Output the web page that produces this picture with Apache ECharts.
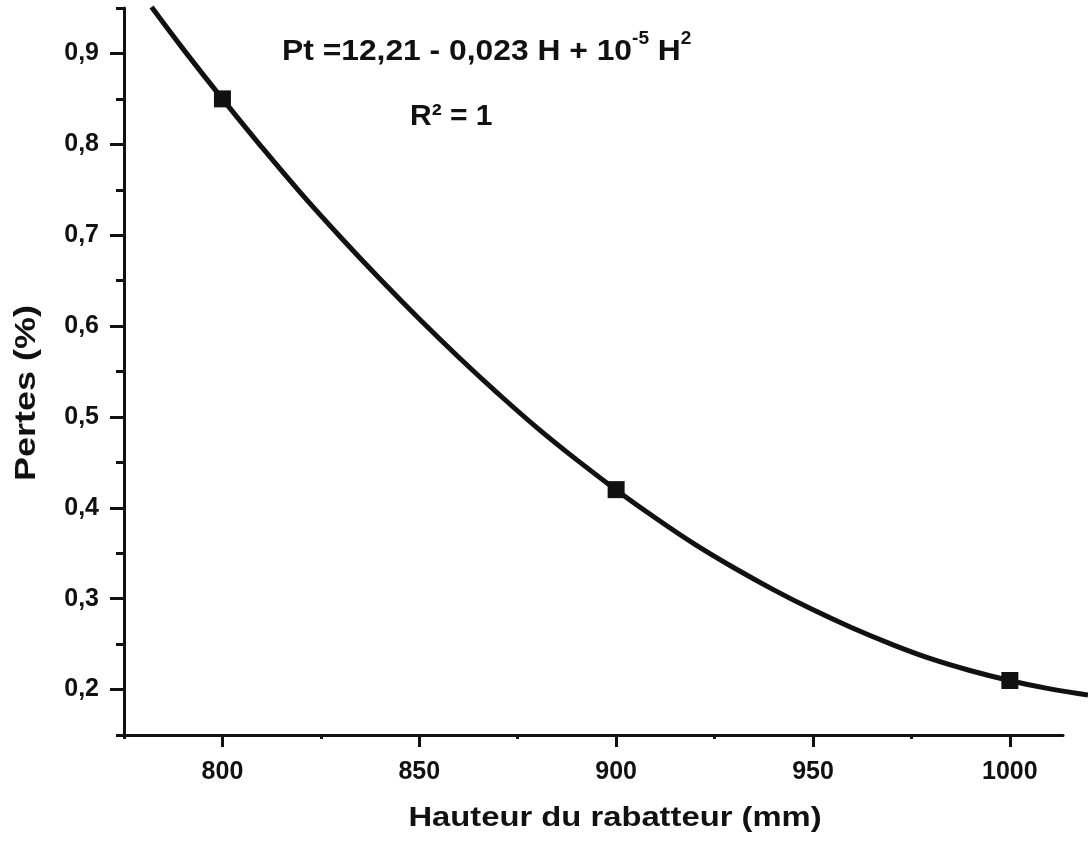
<!DOCTYPE html>
<html>
<head>
<meta charset="utf-8">
<script src="https://cdn.jsdelivr.net/npm/echarts@6/dist/echarts.min.js"></script>
<style>
  html, body { margin: 0; padding: 0; background: #ffffff; }
  #chart { width: 1088px; height: 843px; }
</style>
</head>
<body>
<div id="chart"></div>
<script>
// Measured losses (%) against reel height (mm)
const hauteurs = [800, 900, 1000];
const pertes = [0.85, 0.42, 0.21];

// Quadratic trend line, sampled along its course
const courbeH = [782, 790, 800, 810, 820, 830, 840, 850, 860, 870, 880, 890, 900,
                 910, 920, 930, 940, 950, 960, 970, 980, 990, 1000, 1010, 1020];
const courbeP = [0.951, 0.905, 0.850, 0.797, 0.746, 0.698, 0.652, 0.608, 0.566, 0.526, 0.488, 0.453, 0.420,
                 0.389, 0.360, 0.334, 0.310, 0.288, 0.268, 0.250, 0.234, 0.221, 0.210, 0.201, 0.194];

// Axis ticks
const xMajor = [800, 850, 900, 950, 1000];
const xMinor = [775, 825, 875, 925, 975];
const yMajor = [0.2, 0.3, 0.4, 0.5, 0.6, 0.7, 0.8, 0.9];
const yMinor = [0.15, 0.25, 0.35, 0.45, 0.55, 0.65, 0.75, 0.85, 0.95];

// Drawn axis range, and the wider range the trend line runs over
const xMin = 775, xMax = 1013.5, xMaxCourbe = 1020;
const yMin = 0.15, yMax = 0.95;

const INK = '#111111';
const FONT = "'Liberation Sans', Arial, sans-serif";

// Same scale in both grids: the second one is just wider so the curve can run past the axis end
const PX_PER_MM = 939 / (xMax - xMin);

const chart = echarts.init(document.getElementById('chart'), null, { renderer: 'canvas' });

const labelStyle = { color: INK, fontFamily: FONT, fontWeight: 'bold', fontSize: 25 };
const hidden = {
  splitLine: { show: false }, axisLine: { show: false },
  axisTick: { show: false }, axisLabel: { show: false }
};

const option = {
  backgroundColor: '#ffffff',
  animation: false,
  grid: [
    { left: 124, top: 8, width: 939, height: 727, containLabel: false },
    { left: 124, top: 8, width: PX_PER_MM * (xMaxCourbe - xMin), height: 727, containLabel: false }
  ],
  xAxis: [
    {
      type: 'value', gridIndex: 0, position: 'bottom', min: xMin, max: xMax,
      splitLine: { show: false },
      axisLine: { show: true, onZero: false, lineStyle: { color: INK, width: 3 } },
      axisTick: { show: true, customValues: xMajor, length: 12, lineStyle: { color: INK, width: 3 } },
      axisLabel: Object.assign({ customValues: xMajor, margin: 25, formatter: v => String(Math.round(v)) }, labelStyle)
    },
    {
      type: 'value', gridIndex: 0, position: 'bottom', min: xMin, max: xMax,
      splitLine: { show: false },
      axisLine: { show: false },
      axisTick: { show: true, customValues: xMinor, length: 4, lineStyle: { color: INK, width: 3 } },
      axisLabel: { show: false }
    },
    Object.assign({ type: 'value', gridIndex: 1, position: 'bottom', min: xMin, max: xMaxCourbe }, hidden)
  ],
  yAxis: [
    {
      type: 'value', gridIndex: 0, position: 'left', min: yMin, max: yMax,
      splitLine: { show: false },
      axisLine: { show: true, onZero: false, lineStyle: { color: INK, width: 3 } },
      axisTick: { show: true, customValues: yMajor, length: 14, lineStyle: { color: INK, width: 3 } },
      axisLabel: Object.assign({ customValues: yMajor, margin: 25, formatter: v => v.toFixed(1).replace('.', ',') }, labelStyle)
    },
    {
      type: 'value', gridIndex: 0, position: 'left', min: yMin, max: yMax,
      splitLine: { show: false },
      axisLine: { show: false },
      axisTick: { show: true, customValues: yMinor, length: 8, lineStyle: { color: INK, width: 3 } },
      axisLabel: { show: false }
    },
    Object.assign({ type: 'value', gridIndex: 1, position: 'left', min: yMin, max: yMax }, hidden)
  ],
  series: [
    {
      name: 'Tendance',
      type: 'line',
      xAxisIndex: 2, yAxisIndex: 2,
      data: courbeH.map((h, i) => [h, courbeP[i]]),
      smooth: 0.4,
      showSymbol: false,
      clip: false,
      lineStyle: { color: INK, width: 5 },
      z: 2
    },
    {
      name: 'Pertes',
      type: 'scatter',
      xAxisIndex: 0, yAxisIndex: 0,
      data: hauteurs.map((h, i) => [h, pertes[i]]),
      symbol: 'rect',
      symbolSize: 17,
      itemStyle: { color: INK, opacity: 1 },
      z: 3
    }
  ],
  graphic: [
    {
      type: 'text', left: 282, top: 30, scaleX: 1.06,
      style: {
        text: '{a|Pt =12,21 - 0,023 H + 10}{s|-5}{a| H}{s|2}',
        fill: INK,
        rich: {
          a: { fontFamily: FONT, fontWeight: 'bold', fontSize: 30, lineHeight: 44, fill: INK },
          s: { fontFamily: FONT, fontWeight: 'bold', fontSize: 18, lineHeight: 20, verticalAlign: 'top', fill: INK }
        }
      }
    },
    {
      type: 'text', left: 410, top: 102,
      style: { text: 'R² = 1', fill: INK, fontFamily: FONT, fontWeight: 'bold', fontSize: 30 }
    },
    {
      type: 'text', x: 615, y: 818, scaleX: 1.17,
      style: {
        text: 'Hauteur du rabatteur (mm)', fill: INK, fontFamily: FONT, fontWeight: 'bold', fontSize: 28,
        align: 'center', verticalAlign: 'middle'
      }
    },
    {
      type: 'text', x: 27, y: 393, rotation: Math.PI / 2, scaleX: 1.2,
      style: {
        text: 'Pertes (%)', fill: INK, fontFamily: FONT, fontWeight: 'bold', fontSize: 30,
        align: 'center', verticalAlign: 'middle'
      }
    }
  ]
};

chart.setOption(option);
</script>
</body>
</html>
